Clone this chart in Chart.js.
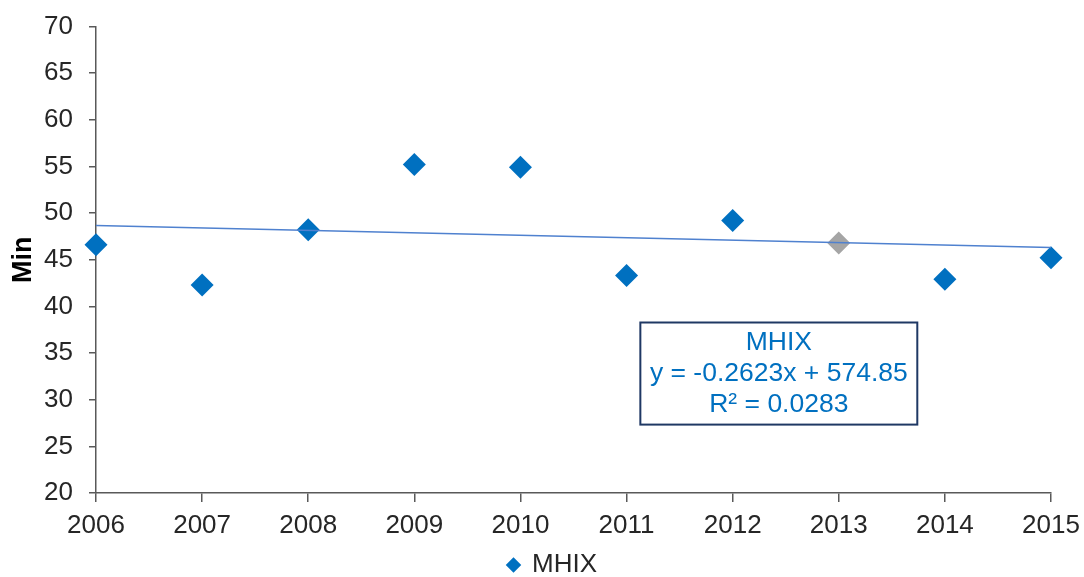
<!DOCTYPE html>
<html>
<head>
<meta charset="utf-8">
<script src="https://cdn.jsdelivr.net/npm/chart.js@4.4.1/dist/chart.umd.min.js"></script>
<style>
html,body{margin:0;padding:0;background:#fff}
#wrap{width:1084px;height:577px}
</style>
</head>
<body>
<div id="wrap"><canvas id="c" width="1084" height="577"></canvas></div>
<script>
const years=[2006,2007,2008,2009,2010,2011,2012,2013,2014,2015]
const mins=[46.6,42.3,48.2,55.2,54.9,43.3,49.2,46.8,42.9,45.2]
const seriesName="MHIX"
const slope=-0.2623
const intercept=574.85
const r2=0.0283
const yTicks={min:20,max:70,step:5}

const blue="#0070C0",grey="#A5A5A5",axisCol="#595959",font="'Liberation Sans', Arial, sans-serif"
const pointCols=years.map(y=>y===2013?grey:blue)

const trend=[years[0],years[years.length-1]].map(x=>({x,y:slope*x+intercept}))

// equation box, placed in data units
const eqBox={
id:"eqBox",
afterLayout(chart){
// nudge the legend to the right like the original
chart.legend.left+=27
chart.legend.right+=27
},
afterDatasetsDraw(chart){
const {ctx,scales:{x,y}}=chart
const l=x.getPixelForValue(2011.13),r=x.getPixelForValue(2013.74)
const t=y.getPixelForValue(38.27),b=y.getPixelForValue(27.33)
ctx.save()
ctx.fillStyle="#fff"
ctx.fillRect(l,t,r-l,b-t)
ctx.strokeStyle="#1F3864"
ctx.lineWidth=2
ctx.strokeRect(l,t,r-l,b-t)
ctx.fillStyle=blue
ctx.font="26.5px "+font
ctx.textAlign="center"
ctx.textBaseline="middle"
const lines=[seriesName,`y = ${slope}x + ${intercept}`,`R² = ${r2}`]
const cx=(l+r)/2
lines.forEach((s,i)=>ctx.fillText(s,cx,t+20+i*31))
ctx.restore()
}
}

new Chart(document.getElementById("c"),{
type:"scatter",
data:{datasets:[
{label:"trend",data:trend,showLine:true,borderColor:"#4F81CF",borderWidth:1.5,pointRadius:0,order:0},
{label:seriesName,data:years.map((x,i)=>({x,y:mins[i]})),pointStyle:"rectRot",pointRadius:11.5,pointHoverRadius:11.5,
backgroundColor:pointCols,borderColor:pointCols,borderWidth:0,order:1,clip:false}
]},
options:{
responsive:false,animation:false,
layout:{padding:{left:0,right:33,top:22,bottom:-11}},
scales:{
x:{type:"linear",min:years[0],max:years[years.length-1],
ticks:{stepSize:1,color:"#262626",font:{family:font,size:26,lineHeight:1.5},padding:4,callback:v=>String(v)},
grid:{drawOnChartArea:false,drawTicks:true,tickLength:9,color:axisCol,lineWidth:1.5},
border:{color:axisCol,width:1.5},
afterFit:s=>{s.height=49}},
y:{min:yTicks.min,max:yTicks.max,
ticks:{stepSize:yTicks.step,color:"#262626",font:{family:font,size:26,lineHeight:0.8},padding:16},
grid:{drawOnChartArea:false,drawTicks:true,tickLength:7,color:axisCol,lineWidth:1.5},
border:{color:axisCol,width:1.5},
title:{display:true,text:"Min",color:"#000",font:{family:font,size:27,weight:"bold"},padding:{top:7,bottom:0}},
afterFit:s=>{s.width=96}}
},
plugins:{
legend:{position:"bottom",
labels:{filter:it=>it.text===seriesName,usePointStyle:true,boxWidth:11,boxHeight:11,color:"#262626",
font:{family:font,size:26},padding:10}},
tooltip:{enabled:false}
}
},
plugins:[eqBox]
})
</script>
</body>
</html>
